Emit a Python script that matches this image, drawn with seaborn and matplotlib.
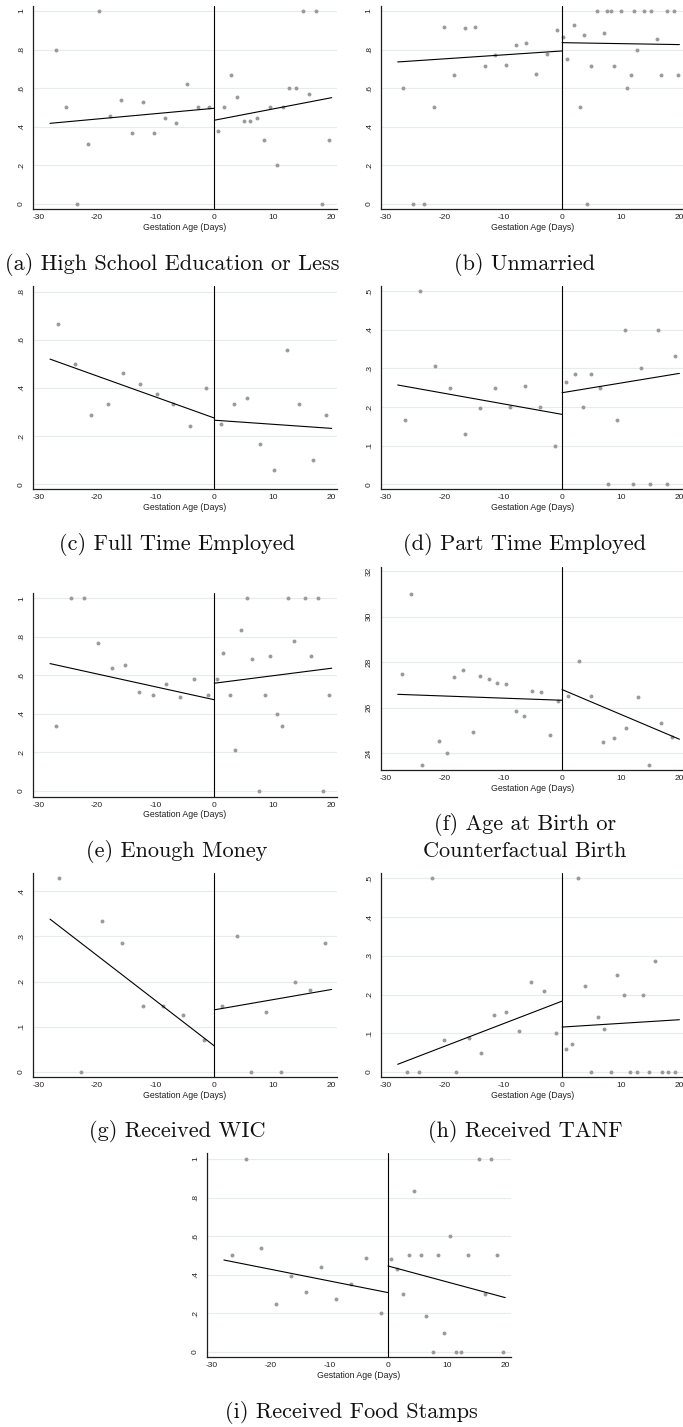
import matplotlib
matplotlib.use("Agg")
import matplotlib.pyplot as plt
import seaborn as sns

sns.set_theme(style="white")
plt.rcParams["font.family"] = ["Liberation Sans", "DejaVu Sans"]
plt.rcParams["axes.unicode_minus"] = False

# ---------------- data ----------------
FIT_LEFT_X = [-28, 0]
FIT_RIGHT_X = [0, 20]
X_TICKS = [-30, -20, -10, 0, 10, 20]
X_TICK_LABELS = ["-30", "-20", "-10", "0", "10", "20"]

a_x = [-27.0, -25.2, -23.4, -21.5, -19.6, -17.8, -15.9, -14.0, -12.2, -10.3, -8.4, -6.5, -4.7, -2.8, -0.9,
       0.6, 1.7, 2.8, 3.9, 5.1, 6.1, 7.3, 8.4, 9.5, 10.6, 11.7, 12.8, 13.9, 15.1, 16.2, 17.3, 18.4, 19.5]
a_y = [0.80, 0.50, 0.0, 0.31, 1.0, 0.456, 0.54, 0.37, 0.53, 0.37, 0.445, 0.42, 0.62, 0.50, 0.50,
       0.38, 0.50, 0.667, 0.556, 0.43, 0.43, 0.445, 0.333, 0.50, 0.20, 0.50, 0.60, 0.60, 1.0, 0.571, 1.0, 0.0, 0.333]
a_fit_left = [0.418, 0.496]
a_fit_right = [0.434, 0.551]

b_x = [-27.1, -25.4, -23.6, -21.9, -20.1, -18.4, -16.6, -14.9, -13.1, -11.4, -9.6, -7.9, -6.1, -4.4, -2.6, -0.85,
       0.23, 0.85, 2.0, 3.1, 3.7, 4.25, 4.9, 6.0, 7.1, 7.7, 8.3, 8.8, 10.0, 11.1, 11.7, 12.2, 12.8, 13.9, 15.1,
       16.2, 16.8, 17.9, 19.1, 19.7]
b_y = [0.60, 0.0, 0.0, 0.50, 0.917, 0.667, 0.912, 0.917, 0.714, 0.771, 0.719, 0.826, 0.836, 0.676, 0.779, 0.90,
       0.866, 0.75, 0.928, 0.50, 0.876, 0.0, 0.714, 1.0, 0.888, 1.0, 1.0, 0.714, 1.0, 0.60, 0.667, 1.0, 0.80, 1.0, 1.0,
       0.855, 0.667, 1.0, 1.0, 0.667]
b_fit_left = [0.736, 0.793]
b_fit_right = [0.836, 0.826]

c_x = [-26.6, -23.8, -21.0, -18.2, -15.5, -12.6, -9.8, -7.0, -4.2, -1.4,
       1.1, 3.35, 5.6, 7.8, 10.1, 12.3, 14.5, 16.8, 19.0]
c_y = [0.668, 0.50, 0.286, 0.333, 0.463, 0.415, 0.373, 0.333, 0.244, 0.40,
       0.25, 0.333, 0.357, 0.167, 0.059, 0.557, 0.333, 0.10, 0.286]
c_fit_left = [0.52, 0.275]
c_fit_right = [0.266, 0.232]

d_x = [-26.7, -24.2, -21.6, -19.1, -16.5, -14.0, -11.4, -8.9, -6.3, -3.8, -1.25,
       0.74, 2.15, 3.6, 5.0, 6.4, 7.8, 9.3, 10.7, 12.1, 13.5, 15.0, 16.4, 17.8, 19.2]
d_y = [0.166, 0.50, 0.307, 0.25, 0.131, 0.197, 0.25, 0.20, 0.254, 0.20, 0.10,
       0.265, 0.285, 0.20, 0.285, 0.25, 0.0, 0.166, 0.40, 0.0, 0.30, 0.0, 0.40, 0.0, 0.333]
d_fit_left = [0.257, 0.181]
d_fit_right = [0.237, 0.287]

e_x = [-26.9, -24.5, -22.2, -19.8, -17.5, -15.2, -12.9, -10.5, -8.2, -5.85, -3.5, -1.1,
       0.5, 1.5, 2.6, 3.5, 4.5, 5.6, 6.5, 7.6, 8.6, 9.5, 10.6, 11.5, 12.6, 13.5, 15.5, 16.5, 17.6, 18.5, 19.6]
e_y = [0.334, 1.0, 1.0, 0.77, 0.637, 0.656, 0.514, 0.50, 0.557, 0.485, 0.583, 0.50,
       0.583, 0.715, 0.50, 0.214, 0.834, 1.0, 0.687, 0.0, 0.50, 0.70, 0.40, 0.334, 1.0, 0.778, 1.0, 0.70, 1.0, 0.0, 0.50]
e_fit_left = [0.661, 0.473]
e_fit_right = [0.559, 0.637]

f_x = [-27.3, -25.8, -23.9, -21.0, -19.6, -18.4, -16.9, -15.2, -14.0, -12.5, -11.0, -9.6, -7.9, -6.5, -5.1, -3.6,
       -2.1, -0.7, 1.0, 2.9, 5.0, 6.95, 8.9, 10.9, 12.9, 14.85, 16.8, 18.8]
f_y = [27.5, 31.0, 23.5, 24.56, 24.0, 27.33, 27.66, 24.92, 27.4, 27.28, 27.09, 27.06, 25.84, 25.64, 26.72, 26.7,
       24.81, 26.29, 26.52, 28.06, 26.5, 24.52, 24.67, 25.12, 26.47, 23.5, 25.34, 24.71]
f_fit_left = [26.59, 26.33]
f_fit_right = [26.8, 24.62]

g_x = [-26.4, -22.7, -19.2, -15.7, -12.2, -8.8, -5.3, -1.7,
       1.26, 3.8, 6.3, 8.8, 11.3, 13.8, 16.3, 18.8]
g_y = [0.428, 0.0, 0.333, 0.286, 0.145, 0.147, 0.125, 0.0717,
       0.146, 0.30, 0.0, 0.133, 0.0, 0.20, 0.182, 0.286]
g_fit_left = [0.338, 0.0577]
g_fit_right = [0.1375, 0.1826]

h_x = [-26.5, -24.4, -22.2, -20.1, -18.0, -15.9, -13.75, -11.6, -9.5, -7.4, -5.3, -3.1, -1.0,
       0.66, 1.76, 2.8, 3.9, 5.0, 6.1, 7.2, 8.3, 9.4, 10.5, 11.6, 12.7, 13.75, 14.85, 15.9, 17.0, 18.1, 19.2]
h_y = [0.0, 0.0, 0.50, 0.083, 0.0, 0.087, 0.049, 0.146, 0.156, 0.105, 0.233, 0.209, 0.10,
       0.059, 0.0716, 0.50, 0.222, 0.0, 0.142, 0.110, 0.0, 0.25, 0.20, 0.0, 0.0, 0.20, 0.0, 0.286, 0.0, 0.0, 0.0]
h_fit_left = [0.0198, 0.183]
h_fit_right = [0.116, 0.135]

i_x = [-26.7, -24.2, -21.7, -19.1, -16.6, -14.0, -11.4, -8.9, -6.3, -3.8, -1.26,
       0.5, 1.56, 2.5, 3.56, 4.5, 5.57, 6.5, 7.6, 8.5, 9.6, 10.5, 11.6, 12.5, 13.6, 15.6, 16.6, 17.5, 18.6, 19.6]
i_y = [0.50, 1.0, 0.54, 0.25, 0.391, 0.312, 0.438, 0.272, 0.35, 0.488, 0.20,
       0.483, 0.43, 0.30, 0.50, 0.833, 0.50, 0.186, 0.0, 0.50, 0.10, 0.60, 0.0, 0.0, 0.50, 1.0, 0.30, 1.0, 0.50, 0.0]
i_fit_left = [0.476, 0.307]
i_fit_right = [0.445, 0.281]

ticks_01 = [0, 0.2, 0.4, 0.6, 0.8, 1.0]
ticks_08 = [0, 0.2, 0.4, 0.6, 0.8]
ticks_05 = [0, 0.1, 0.2, 0.3, 0.4, 0.5]
ticks_04 = [0, 0.1, 0.2, 0.3, 0.4]
ticks_age = [24, 26, 28, 30, 32]

titles = {
    "a": ["(a) High School Education or Less"],
    "b": ["(b) Unmarried"],
    "c": ["(c) Full Time Employed"],
    "d": ["(d) Part Time Employed"],
    "e": ["(e) Enough Money"],
    "f": ["(f) Age at Birth or", "Counterfactual Birth"],
    "g": ["(g) Received WIC"],
    "h": ["(h) Received TANF"],
    "i": ["(i) Received Food Stamps"],
}

# ---------------- layout (pixels) ----------------
W, H = 683, 1427
panels = [
    # key, x, y, fitL, fitR, yticks, ylim, box(l,t,r,b), title centre x, title baselines
    ("a", a_x, a_y, a_fit_left, a_fit_right, ticks_01, (-0.026, 1.026), (33, 6, 337, 209), 172, [270]),
    ("b", b_x, b_y, b_fit_left, b_fit_right, ticks_01, (-0.026, 1.026), (380.7, 6, 684.7, 209), 525, [270]),
    ("c", c_x, c_y, c_fit_left, c_fit_right, ticks_08, (-0.02, 0.824), (33, 286, 337, 489), 177, [550]),
    ("d", d_x, d_y, d_fit_left, d_fit_right, ticks_05, (-0.012, 0.513), (380.7, 286, 684.7, 489), 525, [550]),
    ("e", e_x, e_y, e_fit_left, e_fit_right, ticks_01, (-0.031, 1.028), (33, 593, 337, 796.7), 177, [857]),
    ("f", f_x, f_y, f_fit_left, f_fit_right, ticks_age, (23.27, 32.19), (380.7, 566.7, 684.7, 770), 525, [830, 857]),
    ("g", g_x, g_y, g_fit_left, g_fit_right, ticks_04, (-0.011, 0.44), (33, 873, 337, 1077), 177, [1137]),
    ("h", h_x, h_y, h_fit_left, h_fit_right, ticks_05, (-0.013, 0.514), (380.7, 873, 684.7, 1077), 525, [1137]),
    ("i", i_x, i_y, i_fit_left, i_fit_right, ticks_01, (-0.027, 1.031), (206.9, 1153, 510.5, 1357), 351, [1418]),
]


def stata_label(v):
    if abs(v - round(v)) < 1e-9:
        return str(int(round(v)))
    s = f"{v:.1f}"
    return s[1:] if s.startswith("0") else s


fig = plt.figure(figsize=(W / 100, H / 100), dpi=100)
fig.patch.set_facecolor("white")

axis_col = "#1e1e1e"
for key, px, py, fl, fr, yt, ylim, box, tcx, tbase in panels:
    l, t, r, b = box
    ax = fig.add_axes([l / W, 1 - b / H, (r - l) / W, (b - t) / H])
    ax.set_facecolor("white")
    ax.set_axisbelow(True)
    ax.grid(axis="y", color="#e3ecee", lw=0.8)
    ax.grid(axis="x", visible=False)

    sns.scatterplot(x=px, y=py, ax=ax, color="#9a9a9a", s=8, linewidth=0, legend=False, zorder=3)
    sns.lineplot(x=FIT_LEFT_X, y=fl, ax=ax, color="black", lw=0.8, zorder=4)
    sns.lineplot(x=FIT_RIGHT_X, y=fr, ax=ax, color="black", lw=0.8, zorder=4)
    ax.axvline(0, color="black", lw=0.8, zorder=4)

    ax.set_xlim(-30.9, 20.9)
    ax.set_ylim(*ylim)
    ax.set_xticks(X_TICKS)
    ax.set_xticklabels(X_TICK_LABELS)
    ax.set_yticks(yt)
    ax.set_yticklabels([stata_label(v) for v in yt], rotation=90, va="center")

    for s in ["top", "right"]:
        ax.spines[s].set_visible(False)
    for s in ["left", "bottom"]:
        ax.spines[s].set_color(axis_col)
        ax.spines[s].set_linewidth(0.9)
    ax.tick_params(axis="x", length=2.5, width=0.7, color=axis_col, labelsize=6, pad=1.0, labelcolor="#222222")
    ax.tick_params(axis="y", length=2.5, width=0.7, color=axis_col, labelsize=6, pad=3.2, labelcolor="#222222")
    ax.set_xlabel("Gestation Age (Days)", fontsize=6.3, labelpad=1.2, color="#222222")
    ax.set_ylabel("")

    for line, yb in zip(titles[key], tbase):
        fig.text(tcx / W, 1 - yb / H, line, ha="center", va="baseline", fontsize=16,
                 family=["cmr10", "DejaVu Serif"], color="#111111")

fig.savefig("out.png", dpi=100, facecolor="white")
